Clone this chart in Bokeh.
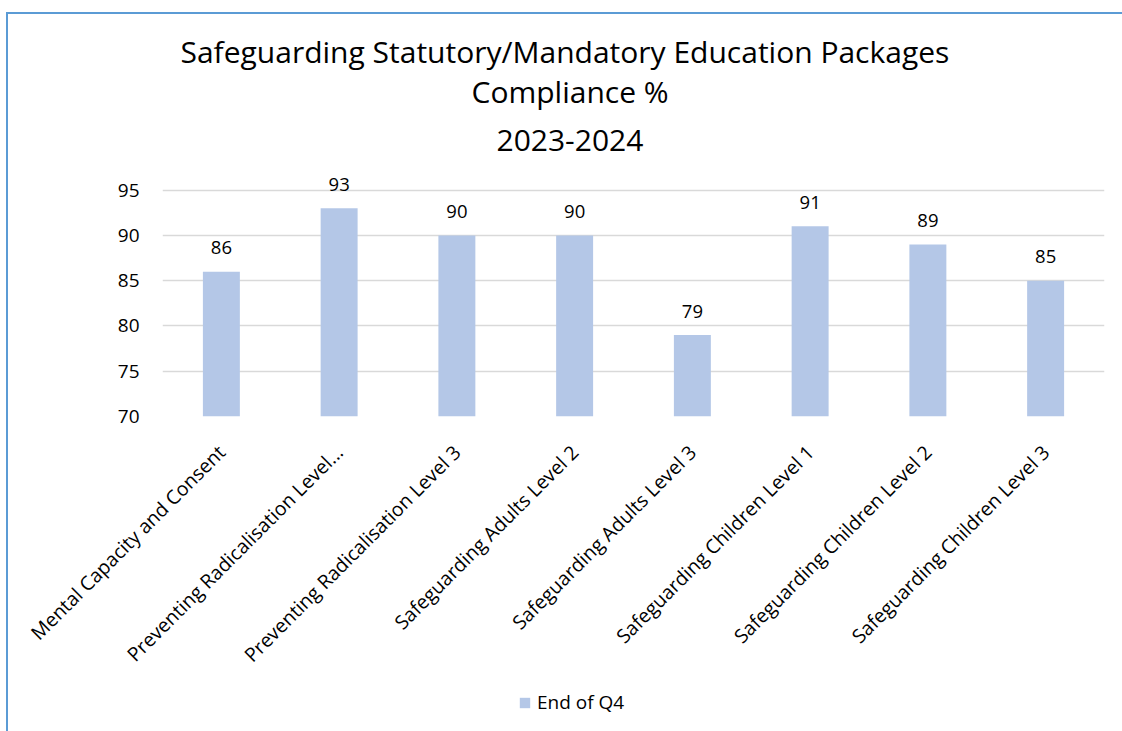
import math
from bokeh.plotting import figure
from bokeh.layouts import column
from bokeh.models import (ColumnDataSource, FixedTicker, Title, Legend, LegendItem, Range1d)
from bokeh.core.properties import value
from bokeh.embed import file_html
from bokeh.resources import INLINE

categories = [
    "Mental Capacity and Consent",
    "Preventing Radicalisation Level...",
    "Preventing Radicalisation Level 3",
    "Safeguarding Adults Level 2",
    "Safeguarding Adults Level 3",
    "Safeguarding Children Level 1",
    "Safeguarding Children Level 2",
    "Safeguarding Children Level 3",
]
end_of_q4 = [86, 93, 90, 90, 79, 91, 89, 85]
y_ticks = [70, 75, 80, 85, 90, 95]
title_lines = ["Safeguarding Statutory/Mandatory Education Packages", "Compliance %", "2023-2024"]
series_name = "End of Q4"

FONT = "Open Sans"
BAR = "#b4c7e7"
GRID = "#d9d9d9"
TXT = "#000000"
EDGE = "#5b9bd5"

src = ColumnDataSource(dict(cat=categories, val=end_of_q4, lbl=[str(v) for v in end_of_q4]))

W = 1122
H_MAIN, H_LEG = 680, 51
frame_left, frame_right, frame_top, frame_bottom = 162, 1104, 167, 417

p = figure(x_range=categories, y_range=(70, 97.5), width=W, height=H_MAIN,
           output_backend="svg", toolbar_location=None,
           min_border_left=frame_left, min_border_right=W - frame_right,
           min_border_top=frame_top, min_border_bottom=H_MAIN - frame_bottom)
p.styles = {"box-shadow": f"inset 6px 0 0 0 white, inset 0 12px 0 0 white, "
                          f"inset 8px 0 0 0 {EDGE}, inset 0 14px 0 0 {EDGE}"}
p.outline_line_color = None
p.background_fill_color = "white"
p.border_fill_color = None

r = p.vbar(x="cat", top="val", bottom=70, width=0.314, source=src,
           fill_color=BAR, line_color=None)
p.text(x="cat", y="val", text="lbl", source=src, text_align="center",
       text_baseline="middle", y_offset=-24, text_font=value(FONT),
       text_font_size="18.5px", text_color=TXT)

p.xgrid.grid_line_color = None
p.ygrid.grid_line_color = GRID
p.ygrid.grid_line_width = 1.5
p.yaxis.ticker = FixedTicker(ticks=y_ticks)
for ax in (p.xaxis, p.yaxis):
    ax.axis_line_color = None
    ax.major_tick_line_color = None
    ax.minor_tick_line_color = None
    ax.major_label_text_font = FONT
    ax.major_label_text_color = TXT
p.yaxis.major_label_text_font_size = "19px"
p.xaxis.major_label_text_font_size = "19.5px"
p.yaxis.major_label_standoff = 17
p.xaxis.major_label_orientation = math.pi / 4
p.xaxis.major_label_standoff = 26

# Title lines: first added sits nearest to the plot; left-aligned with offsets
for line, so, off in zip(reversed(title_lines), [34, -2, -4], [334, 309, 18]):
    p.add_layout(Title(text=line, align="left", text_font=FONT, text_font_size="30px",
                       text_font_style="normal", text_color=TXT, standoff=so, offset=off), "above")

# Legend in a strip beneath the chart (its frame aligns with the chart frame)
q = figure(width=W, height=H_LEG, output_backend="svg", toolbar_location=None,
           min_border=0, x_axis_location=None, y_axis_location=None,
           x_range=Range1d(0, 1), y_range=Range1d(0, 1))
q.styles = {"box-shadow": f"inset 6px 0 0 0 white, inset 8px 0 0 0 {EDGE}"}
q.grid.grid_line_color = None
q.outline_line_color = None
q.background_fill_color = None
q.border_fill_color = None
lr = q.vbar(x=[-5], top=[-5], bottom=[-6], width=0.314, fill_color=BAR, line_color=None)
legend = Legend(items=[LegendItem(label=series_name, renderers=[lr])],
                location=(356, 16), orientation="horizontal",
                glyph_width=13, glyph_height=13, label_standoff=6, padding=0, margin=0,
                border_line_color=None, background_fill_alpha=0,
                label_text_font=FONT, label_text_font_size="19px", label_text_color=TXT)
q.add_layout(legend, "center")

layout = column(p, q, spacing=0)
open("out.html", "w").write(file_html(layout, INLINE))
